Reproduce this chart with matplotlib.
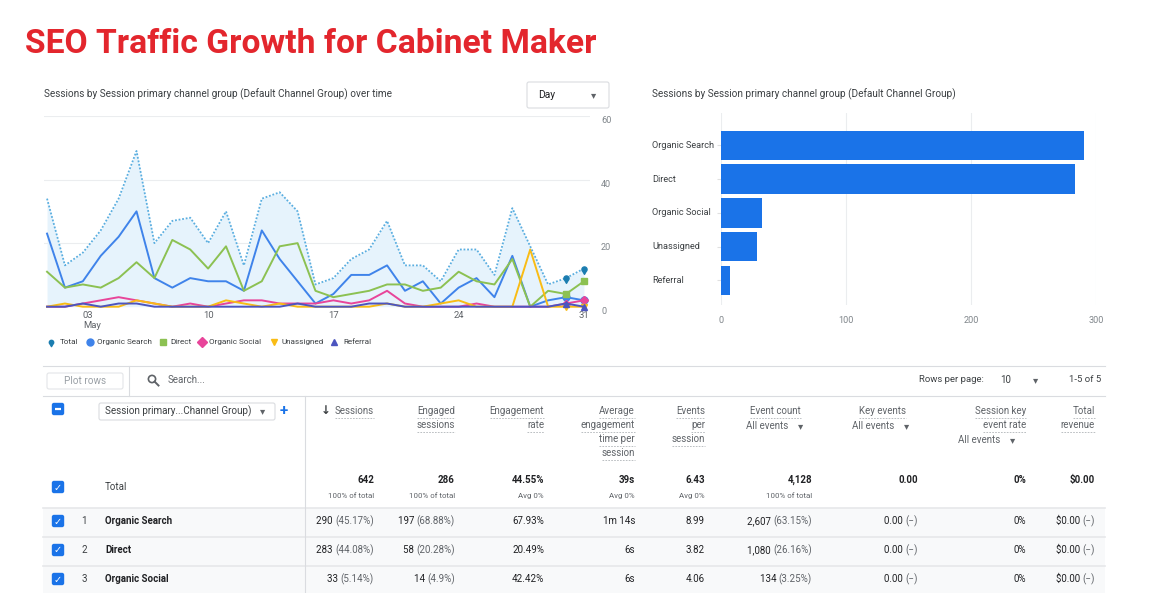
import numpy as np
import matplotlib
matplotlib.use('Agg')
import matplotlib.pyplot as plt
from matplotlib.path import Path
from matplotlib.patches import Rectangle, FancyBboxPatch, Circle
from matplotlib.transforms import blended_transform_factory

plt.rcParams['font.family'] = ['Roboto', 'DejaVu Sans']

W, H = 1170, 593

# daily sessions, 1-31 May
days = list(range(1, 32))
total = [34, 13, 17, 24, 34, 49, 20, 27, 28, 20, 30, 13, 34, 36, 30, 7,
         9, 15, 18, 27, 13, 13, 8, 18, 18, 10, 31, 19, 7, 9, 12]
organic_search = [23, 6, 8, 16, 22, 30, 9, 6, 9, 8, 8, 5, 24, 15, 8, 1,
                  4, 10, 10, 13, 5, 8, 1, 6, 9, 3, 16, 0, 2, 3, 2]
direct = [11, 6, 7, 6, 9, 14, 9, 21, 18, 12, 19, 5, 8, 19, 20, 5,
          3, 4, 5, 7, 7, 5, 6, 11, 8, 7, 15, 0, 5, 4, 8]
organic_social = [0, 0, 1, 2, 3, 2, 1, 0, 1, 0, 1, 2, 2, 1, 1, 1,
                  2, 1, 2, 5, 1, 0, 0, 0, 1, 0, 0, 0, 0, 1, 2]
unassigned = [0, 1, 0, 0, 0, 2, 1, 0, 0, 0, 2, 1, 0, 1, 0, 0,
              0, 0, 0, 1, 0, 0, 1, 2, 0, 0, 0, 18, 0, 0, 0]
referral = [0, 0, 1, 0, 1, 1, 0, 0, 0, 0, 0, 0, 0, 0, 1, 0,
            0, 0, 1, 1, 0, 0, 0, 0, 0, 0, 0, 0, 0, 1, 0]

x_ticks = [3, 10, 17, 24, 31]
x_tick_labels = ['03\nMay', '10', '17', '24', '31']
y_ticks = [0, 20, 40, 60]

channels = ['Organic Search', 'Direct', 'Organic Social', 'Unassigned', 'Referral']
channel_sessions = [290, 283, 33, 29, 7]
bar_ticks = [0, 100, 200, 300]

# table
col_right = [374, 455, 544, 635, 705, 812, 918, 1026, 1095]
total_values = ['642', '286', '44.55%', '39s', '6.43', '4,128', '0.00', '0%', '$0.00']
total_notes = ['100% of total', '100% of total', 'Avg 0%', 'Avg 0%', 'Avg 0%',
               '100% of total', '', '', '']
row_names = ['Organic Search', 'Direct', 'Organic Social']
row_main = [
    ['290', '197', '67.93%', '1m 14s', '8.99', '2,607', '0.00', '0%', '$0.00'],
    ['283', '58', '20.49%', '6s', '3.82', '1,080', '0.00', '0%', '$0.00'],
    ['33', '14', '42.42%', '6s', '4.06', '134', '0.00', '0%', '$0.00'],
]
row_paren = [
    ['(45.17%)', '(68.88%)', '', '', '', '(63.15%)', '(\u2212)', '', '(\u2212)'],
    ['(44.08%)', '(20.28%)', '', '', '', '(26.16%)', '(\u2212)', '', '(\u2212)'],
    ['(5.14%)', '(4.9%)', '', '', '', '(3.25%)', '(\u2212)', '', '(\u2212)'],
]
header_lines = [
    ['Sessions'],
    ['Engaged', 'sessions'],
    ['Engagement', 'rate'],
    ['Average', 'engagement', 'time per', 'session'],
    ['Events', 'per', 'session'],
    ['Event count'],
    ['Key events'],
    ['Session key', 'event rate'],
    ['Total', 'revenue'],
]
header_right = [374, 455, 544, 635, 705, 801, 906, 1026, 1095]

DARK = '#202124'
GREY = '#5f6368'
LIGHT = '#9aa0a6'
RULE = '#dadce0'
BLUE = '#1a73e8'
colors = {'Total': '#5aaee0', 'Organic Search': '#3f83ea', 'Direct': '#8cc152',
          'Organic Social': '#e8459a', 'Unassigned': '#f9bc15', 'Referral': '#4c55bf'}
pin_color = '#1b7db0'

fig = plt.figure(figsize=(W / 100, H / 100), dpi=100)
canvas = fig.add_axes([0, 0, 1, 1])
canvas.set_xlim(0, W)
canvas.set_ylim(H, 0)
canvas.axis('off')


def px_axes(x0, y0, x1, y1):
    return fig.add_axes([x0 / W, 1 - y1 / H, (x1 - x0) / W, (y1 - y0) / H])


def put(x, y, s, size=7, color=DARK, ha='left', weight='normal', **kw):
    return canvas.text(x, y, s, fontsize=size, color=color, ha=ha, va='center',
                       fontweight=weight, **kw)


def hline(y, x0=43, x1=1105, color=RULE, lw=0.8):
    canvas.plot([x0, x1], [y, y], color=color, lw=lw)


# teardrop marker for Total
ang = np.radians(np.linspace(-50, 230, 40))
pin_verts = list(zip(np.cos(ang), np.sin(ang))) + [(0, -1.9)]
pin_verts.append(pin_verts[0])
pin = Path(pin_verts, [Path.MOVETO] + [Path.LINETO] * (len(pin_verts) - 2) + [Path.CLOSEPOLY])

put(25, 44, 'SEO Traffic Growth for Cabinet Maker', size=24.2, color='#e3262d', weight='bold')

# ---- line chart ----
put(44, 94, 'Sessions by Session primary channel group (Default Channel Group) over time',
    size=7.2, color='#3c4043')
canvas.add_patch(FancyBboxPatch((527, 82), 82, 26, boxstyle='round,pad=0,rounding_size=2',
                                fc='white', ec=RULE, lw=0.8))
put(538, 95, 'Day', size=7.4, color=DARK)
put(594, 95, '\u25be', size=7.5, color=GREY, ha='center')

ax = px_axes(44, 116, 590, 306.7)
ax.fill_between(days, total, color='#e6f3fc', lw=0)
series = [('Organic Search', organic_search, 'o'), ('Direct', direct, 's'),
          ('Organic Social', organic_social, 'D'), ('Unassigned', unassigned, 'v'),
          ('Referral', referral, '^')]
for name, vals, mk in series:
    ax.plot(days, vals, color=colors[name], lw=1.4, marker=mk, markevery=[29, 30],
            ms=5 if mk != 'D' else 4.5, clip_on=False, zorder=3)
ax.plot(days, total, color=colors['Total'], lw=1.3, ls=(0, (1, 1)), zorder=4)
ax.plot(days[-2:], total[-2:], ls='none', marker=pin, ms=7, color=pin_color,
        clip_on=False, zorder=5)
ax.set_xlim(0.83, 31.34)
ax.set_ylim(0, 60)
ax.set_yticks(y_ticks)
ax.yaxis.tick_right()
ax.set_xticks(x_ticks)
ax.set_xticklabels(x_tick_labels)
ax.tick_params(axis='y', length=0, pad=8, labelsize=6.6, labelcolor='#80868b')
ax.tick_params(axis='x', length=0, pad=3, labelsize=6.8, labelcolor=GREY)
for lbl in ax.get_yticklabels():
    lbl.set_verticalalignment('top')
xl = ax.get_xticklabels()
xl[0].set_horizontalalignment('left')
xl[0].set_multialignment('left')
ax.grid(axis='y', color='#ebedef', lw=0.8)
ax.set_axisbelow(True)
for s in ax.spines.values():
    s.set_visible(False)
ax.patch.set_alpha(0)

# legend row
legend_items = [('Total', 51, 60), ('Organic Search', 90, 97), ('Direct', 163, 170),
                ('Organic Social', 202, 209), ('Unassigned', 274, 281), ('Referral', 334, 343)]
legend_markers = {'Total': pin, 'Organic Search': 'o', 'Direct': 's',
                  'Organic Social': 'D', 'Unassigned': 'v', 'Referral': '^'}
for name, mx, tx in legend_items:
    c = pin_color if name == 'Total' else colors[name]
    canvas.plot([mx], [342], marker=legend_markers[name], color=c,
                ms=6 if name == 'Total' else 5, ls='none')
    put(tx, 342, name, size=5.9, color='#3c4043')

# ---- bar chart ----
put(652, 94, 'Sessions by Session primary channel group (Default Channel Group)',
    size=7.2, color='#3c4043')
bax = px_axes(721, 113, 1096, 305)
ypos = np.arange(len(channels))
bax.barh(ypos, channel_sessions, height=0.88, color=BLUE, zorder=3)
bax.set_xlim(0, 300)
bax.set_ylim(4.73, -0.96)
bax.set_xticks(bar_ticks)
bax.set_yticks(ypos)
bax.set_yticklabels([])
bax.tick_params(axis='x', length=0, pad=8, labelsize=6.6, labelcolor='#80868b')
bax.tick_params(axis='y', length=3, color='#e0e0e0')
bax.grid(axis='x', color='#ebedef', lw=0.8)
bax.set_axisbelow(True)
for s in bax.spines.values():
    s.set_visible(False)
bax.patch.set_alpha(0)
trans = blended_transform_factory(fig.transFigure, bax.transData)
for i, name in enumerate(channels):
    bax.text(652 / W, i, name, transform=trans, ha='left', va='center',
             fontsize=6.6, color='#3c4043')

# ---- table ----
hline(366)
hline(396)
canvas.plot([129, 129], [366, 396], color=RULE, lw=0.8)
canvas.add_patch(FancyBboxPatch((47, 373), 76, 16, boxstyle='round,pad=0,rounding_size=2',
                                fc='white', ec='#e3e5e8', lw=0.8))
put(85, 381, 'Plot rows', size=7.2, color=LIGHT, ha='center')
canvas.add_patch(Circle((152, 379), 3.6, fill=False, ec=GREY, lw=1.2))
canvas.plot([154.6, 158.5], [381.6, 385.5], color=GREY, lw=1.4)
put(168, 380, 'Search...', size=7, color=GREY)
put(919, 380, 'Rows per page:', size=6.8, color='#3c4043')
put(1000, 380, '10', size=7, color='#3c4043')
put(1036, 380, '\u25be', size=7.5, color=GREY, ha='center')
put(1101, 380, '1-5 of 5', size=6.8, color='#3c4043', ha='right')

# header row
canvas.add_patch(FancyBboxPatch((52.5, 403.5), 11, 11, boxstyle='round,pad=0,rounding_size=1.5',
                                fc=BLUE, ec=BLUE))
canvas.plot([55, 61], [409, 409], color='white', lw=1.6, solid_capstyle='butt')
canvas.add_patch(FancyBboxPatch((99, 403), 176, 17, boxstyle='round,pad=0,rounding_size=2',
                                fc='white', ec=RULE, lw=0.8))
put(105, 411.5, 'Session primary...Channel Group)', size=7.1, color='#3c4043')
put(263, 411.5, '\u25be', size=7.5, color=GREY, ha='center')
put(284, 411, '+', size=11, color=BLUE, ha='center', weight='bold')
put(326, 410, '\u2193', size=8.5, color='#3c4043', ha='center', weight='bold')

line_y = [411, 425, 439, 453]
header_texts = []
for xr, lines in zip(header_right, header_lines):
    for k, s in enumerate(lines):
        header_texts.append(put(xr, line_y[k], s, size=7, color=GREY, ha='right'))
for xl_, y in [(746, 426), (852, 426), (958, 440)]:
    put(xl_, y, 'All events', size=7, color=GREY)
    put(xl_ + 55, y, '\u25be', size=7.5, color=GREY, ha='center')


def checkbox(x, y):
    canvas.add_patch(FancyBboxPatch((x - 5.5, y - 5.5), 11, 11,
                                    boxstyle='round,pad=0,rounding_size=1.5', fc=BLUE, ec=BLUE))
    put(x, y + 0.5, '\u2713', size=7, color='white', ha='center', weight='bold',
        family='DejaVu Sans')


# total row
checkbox(58, 487)
put(105, 487, 'Total', size=7, color='#3c4043')
for xr, v, n in zip(col_right, total_values, total_notes):
    put(xr, 480, v, size=7, color=DARK, ha='right', weight='bold')
    if n:
        put(xr, 496, n, size=5.7, color=GREY, ha='right')

# data rows
row_y = [521, 550, 579]
canvas.add_patch(Rectangle((43, 508), 1062, 85, fc='#f8f9fa', ec='none'))
for y in [508, 537, 566]:
    hline(y, color='#e6e8ea', lw=1.2)
canvas.plot([305, 305], [396, 593], color=RULE, lw=0.8)
for i, (name, mains, parens) in enumerate(zip(row_names, row_main, row_paren)):
    y = row_y[i]
    checkbox(58, y)
    put(84, y, str(i + 1), size=7, color='#3c4043', ha='center')
    put(105, y, name, size=7, color=DARK, weight='bold')
    for xr, m, p in zip(col_right, mains, parens):
        if p:
            tp = put(xr, y, p, size=7, color=GREY, ha='right')
            canvas.annotate(m + ' ', xy=(0, 0.5), xycoords=tp, ha='right', va='center',
                            fontsize=7, color=DARK)
        else:
            put(xr, y, m, size=7, color=DARK, ha='right')

# dashed underlines under header words
fig.canvas.draw()
renderer = fig.canvas.get_renderer()
inv = canvas.transData.inverted()
for t in header_texts:
    bb = t.get_window_extent(renderer)
    (x0, ya), (x1, yb) = inv.transform([[bb.x0, bb.y0], [bb.x1, bb.y1]])
    yl = max(ya, yb) + 1.5
    canvas.plot([x0, x1], [yl, yl], color='#b0b4b8', lw=0.6, ls=(0, (2, 1.5)))

fig.savefig('out.png', dpi=100)
